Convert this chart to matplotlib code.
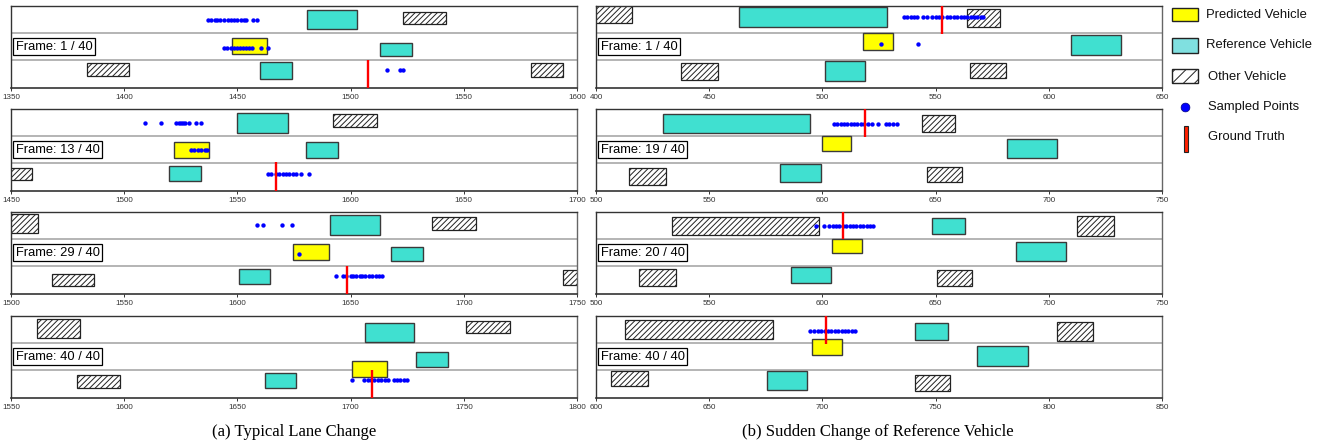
import numpy as np
import matplotlib.pyplot as plt
from matplotlib.patches import Rectangle

plt.rcParams['font.family'] = ['Liberation Sans', 'DejaVu Sans']
plt.rcParams['hatch.linewidth'] = 0.7

# panels: a1..a4 (typical lane change), b1..b4 (sudden change of reference)
frame_labels = ['Frame: 1 / 40', 'Frame: 13 / 40', 'Frame: 29 / 40', 'Frame: 40 / 40',
                'Frame: 1 / 40', 'Frame: 19 / 40', 'Frame: 20 / 40', 'Frame: 40 / 40']
x_ranges = [(1350, 1600), (1450, 1700), (1500, 1750), (1550, 1800),
            (400, 650), (500, 750), (500, 750), (600, 850)]

# vehicles as (x_start, x_end, y_low, y_high), lanes are y 0-1, 1-2, 2-3
predicted = [(1447.6, 1463, 1.22, 1.81), (1522, 1537.6, 1.20, 1.80),
             (1624.6, 1640.3, 1.22, 1.82), (1700.5, 1716.2, 0.75, 1.34),
             (517.9, 531.1, 1.39, 1.99), (599.8, 612.8, 1.47, 1.99),
             (604.1, 617.5, 1.49, 1.99), (695.3, 708.5, 1.58, 2.17)]

reference = [
    [(1480.7, 1502.8, 2.15, 2.85), (1513, 1527, 1.15, 1.62), (1460, 1474, 0.33, 0.93)],
    [(1550, 1572.2, 2.12, 2.86), (1580.2, 1594.3, 1.21, 1.77), (1519.6, 1533.8, 0.36, 0.90)],
    [(1640.8, 1663, 2.15, 2.88), (1668, 1682, 1.18, 1.73), (1600.5, 1614.6, 0.36, 0.91)],
    [(1706.2, 1728.2, 2.04, 2.76), (1728.9, 1743, 1.11, 1.66), (1662.1, 1676, 0.34, 0.90)],
    [(463.3, 528.4, 2.23, 2.95), (609.9, 632, 1.21, 1.93), (501.1, 518.8, 0.25, 0.96)],
    [(529.5, 594.5, 2.10, 2.80), (681.6, 703.6, 1.18, 1.89), (581.4, 599.3, 0.33, 0.98)],
    [(648.3, 663, 2.18, 2.79), (685.5, 707.7, 1.20, 1.90), (586.1, 603.7, 0.37, 0.98)],
    [(740.8, 755.5, 2.12, 2.75), (768.4, 790.6, 1.17, 1.88), (675.5, 693, 0.29, 0.98)],
]

other = [
    [(1523, 1542, 2.33, 2.78), (1383.6, 1402, 0.41, 0.89), (1579.7, 1594, 0.37, 0.89)],
    [(1592.4, 1611.5, 2.35, 2.81), (1445, 1459.4, 0.37, 0.84)],
    [(1495, 1512, 2.22, 2.91), (1686, 1705.2, 2.35, 2.83),
     (1517.9, 1536.6, 0.27, 0.73), (1743.6, 1755, 0.31, 0.86)],
    [(1561.4, 1580.4, 2.19, 2.90), (1751, 1770.2, 2.36, 2.83), (1579, 1598, 0.36, 0.84)],
    [(395, 415.8, 2.38, 3.05), (563.7, 578.4, 2.24, 2.88),
     (437.6, 454, 0.26, 0.89), (565.4, 581.3, 0.34, 0.91)],
    [(643.8, 658.5, 2.17, 2.78), (514.7, 530.8, 0.21, 0.83), (646.2, 661.8, 0.33, 0.86)],
    [(533.5, 598.4, 2.14, 2.81), (712.6, 728.8, 2.13, 2.84),
     (519, 535.3, 0.27, 0.89), (650.6, 666.1, 0.29, 0.88)],
    [(613, 678, 2.15, 2.85), (803.5, 819.6, 2.07, 2.78),
     (606.5, 622.9, 0.41, 0.98), (740.7, 756.3, 0.25, 0.83)],
]

# sampled points, grouped per lane: (y, [x values])
samples = [
    [(2.48, [1437, 1438.5, 1440, 1441, 1442.5, 1444, 1446, 1447, 1448.5, 1450, 1451.5,
             1453, 1454, 1457, 1458.5]),
     (1.44, [1444, 1445.5, 1447, 1448.5, 1450, 1451, 1452.5, 1454, 1455, 1456.5,
             1460.5, 1463.5]),
     (0.63, [1516, 1522, 1523])],
    [(2.48, [1509.3, 1516.3, 1523, 1524, 1525, 1526, 1527, 1528.5, 1531.8, 1534]),
     (1.48, [1529.5, 1531, 1532.5, 1534, 1535.5, 1536.6]),
     (0.6, [1563.4, 1565, 1567, 1568.5, 1570, 1571.5, 1573, 1574.5, 1576, 1578, 1581.8])],
    [(2.52, [1608.7, 1611.3, 1619.6, 1624.1]),
     (1.47, [1627.3]),
     (0.65, [1643.4, 1646.7, 1648, 1650, 1651, 1652.5, 1654, 1655, 1656.5, 1658,
             1659.5, 1661, 1662.5, 1664])],
    [(0.63, [1700.5, 1706, 1707.5, 1709, 1710.5, 1712, 1713.5, 1715, 1716.5, 1719,
             1720.5, 1722, 1723.5, 1725])],
    [(2.59, [536, 537.5, 539, 540.5, 542, 544.5, 546, 548.5, 550, 551.5, 553, 555,
             556.5, 558, 559.5, 561, 562.5, 564, 565.5, 567, 568.5, 570, 571]),
     (1.6, [526, 542.3])],
    [(2.45, [605, 606.5, 608, 609.5, 611, 612.5, 614, 615.5, 617, 618.5, 620, 622,
             624.5, 628, 629.5, 631, 633])],
    [(2.48, [597.3, 600.5, 603, 604.5, 606, 607.5, 609, 610.5, 612, 613.5, 615, 616.5,
             618, 619.5, 621, 622.3])],
    [(2.46, [694.5, 696.5, 698, 699.5, 701, 702.5, 704, 705.5, 707, 708.5, 710, 711.5,
             713, 714.3])],
]

truth_x = [1507.7, 1567.2, 1648.3, 1709.6, 552.8, 619, 609.2, 701.7]
truth_y = [(0, 1.02), (0, 1.04), (0, 1.02), (0, 1.02),
           (1.97, 3), (1.97, 3), (2.0, 3), (1.98, 3)]

captions = ['(a) Typical Lane Change', '(b) Sudden Change of Reference Vehicle']
legend_labels = ['Predicted Vehicle', 'Reference Vehicle', 'Other Vehicle',
                 'Sampled Points', 'Ground Truth']

CYAN = '#40e0d0'
YELLOW = '#ffff00'
W, H = 1321, 445
fig = plt.figure(figsize=(W / 100, H / 100), dpi=100)


def px_axes(x, y, w, h):
    return fig.add_axes([x / W, 1 - (y + h) / H, w / W, h / H])


col_left = [11, 596]
col_width = 566
row_top = [6, 109, 212, 316]
row_height = 81.5

for i in range(8):
    col, row = divmod(i, 4)
    ax = px_axes(col_left[col], row_top[row], col_width, row_height)
    x0, x1 = x_ranges[i]
    ax.set_xlim(x0, x1)
    ax.set_ylim(0, 3)
    for yl in (1, 2):
        ax.axhline(yl, color='#b4b4b4', lw=1.4, zorder=1)

    for a, b, c, d in reference[i]:
        ax.add_patch(Rectangle((a, c), b - a, d - c, fc=CYAN, ec='#3a3a3a', lw=1.0, zorder=2))
    for a, b, c, d in other[i]:
        ax.add_patch(Rectangle((a, c), b - a, d - c, fc='white', ec='#222222', lw=0.9,
                               hatch='//////', zorder=2))
    a, b, c, d = predicted[i]
    ax.add_patch(Rectangle((a, c), b - a, d - c, fc=YELLOW, ec='#3a3a3a', lw=1.0, zorder=3))

    for yv, xs in samples[i]:
        ax.scatter(xs, [yv] * len(xs), s=10, c='#0000ff', lw=0, zorder=4)
    ax.plot([truth_x[i]] * 2, truth_y[i], color='#ff0000', lw=1.7, zorder=5,
            solid_capstyle='butt')

    ax.text(0.008, 0.5, frame_labels[i], transform=ax.transAxes, ha='left', va='center',
            fontsize=9.3, zorder=6,
            bbox=dict(boxstyle='square,pad=0.2', fc='white', ec='black', lw=0.9))

    ax.set_xticks(np.arange(x0, x1 + 1, 50))
    ax.set_yticks([])
    ax.tick_params(axis='x', labelsize=5.8, length=2, width=0.7, pad=2.5,
                   colors='#333333')
    for side, sp in ax.spines.items():
        sp.set_color('#333333' if side in ('bottom', 'top', 'left') else '#666666')
        sp.set_linewidth(1.2 if side == 'bottom' else 1.0)

for k, cx in enumerate([294, 878]):
    fig.text(cx / W, 1 - 432 / H, captions[k], ha='center', va='center',
             family=['Liberation Serif', 'DejaVu Serif'], fontsize=12)

# legend drawn in pixel space
lg = px_axes(1160, 0, 161, 160)
lg.set_xlim(1160, 1321)
lg.set_ylim(160, 0)
lg.axis('off')
lg.add_patch(Rectangle((1172, 7.5), 26, 13.5, fc=YELLOW, ec='#222222', lw=1.0))
lg.add_patch(Rectangle((1172, 37.5), 26, 15, fc='#80e0e0', ec='#222222', lw=1.0))
lg.add_patch(Rectangle((1172, 69), 26, 14, fc='white', ec='#222222', lw=1.0, hatch='///'))
lg.scatter([1185.5], [107], s=40, c='#0000ff', ec='#000080', lw=0.5)
lg.add_patch(Rectangle((1184, 126), 4, 26, fc='#ff2000', ec='#222222', lw=0.8))
for k, ty in enumerate([15, 45, 77, 107, 137]):
    lg.text(1206 if k < 2 else 1208, ty, legend_labels[k], ha='left', va='center',
            fontsize=9.4, color='#111111')

fig.savefig('out.png', dpi=100)
